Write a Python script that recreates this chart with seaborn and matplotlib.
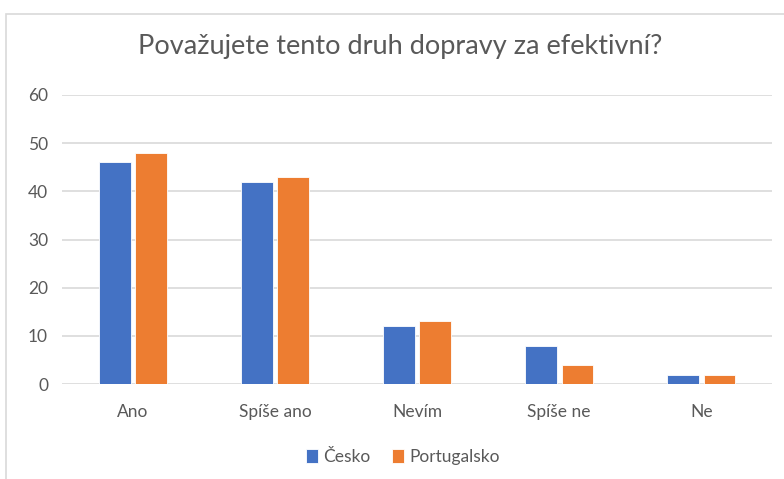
import matplotlib
matplotlib.use("Agg")
import matplotlib.pyplot as plt
import seaborn as sns
import pandas as pd
from matplotlib.patches import Rectangle

# data
categories = ["Ano", "Spíše ano", "Nevím", "Spíše ne", "Ne"]
cesko = [46, 42, 12, 8, 2]
portugalsko = [48, 43, 13, 4, 2]
series = ["Česko", "Portugalsko"]
colors = ["#4472C4", "#ED7D31"]
yticks = [0, 10, 20, 30, 40, 50, 60]

df = pd.DataFrame({
    "kategorie": categories * 2,
    "hodnota": cesko + portugalsko,
    "zeme": [series[0]] * len(categories) + [series[1]] * len(categories),
})

sns.set_theme(style="white")
plt.rcParams["font.family"] = ["Lato", "DejaVu Sans"]
text_col = "#595959"

fig = plt.figure(figsize=(7.84, 4.79), dpi=100)
ax = fig.add_axes([0.079, 0.198, 0.906, 0.604])

sns.barplot(data=df, x="kategorie", y="hodnota", hue="zeme", order=categories,
            hue_order=series, palette=colors, width=0.51, gap=0.13,
            saturation=1, ax=ax, edgecolor="white", linewidth=0.6)

ax.set_ylim(0, 60)
ax.set_yticks(yticks)
ax.yaxis.grid(True, color="#d9d9d9", linewidth=1.2)
ax.set_axisbelow(True)
for s in ax.spines.values():
    s.set_visible(False)
ax.set_xlabel("")
ax.set_ylabel("")
ax.tick_params(axis="both", length=0, labelsize=12.5, colors=text_col)
ax.tick_params(axis="x", pad=14)
ax.tick_params(axis="y", pad=10)

leg = ax.legend(loc="upper center", bbox_to_anchor=(0.48, -0.17), ncol=2,
                frameon=False, fontsize=12.5, handlelength=0.7, handleheight=0.9,
                handletextpad=0.3, columnspacing=1.2)
for t in leg.get_texts():
    t.set_color(text_col)

fig.text(0.51, 0.902, "Považujete tento druh dopravy za efektivní?",
         ha="center", va="center", fontsize=19.5, color=text_col)

# chart frame, cut off at right and bottom like the screenshot
fig.patches.append(Rectangle((6 / 784, -0.1), 1.1, 1 - 14 / 479 + 0.1,
                             transform=fig.transFigure, fill=False,
                             edgecolor="#d9d9d9", linewidth=1.2))

fig.savefig("out.png", dpi=100)
